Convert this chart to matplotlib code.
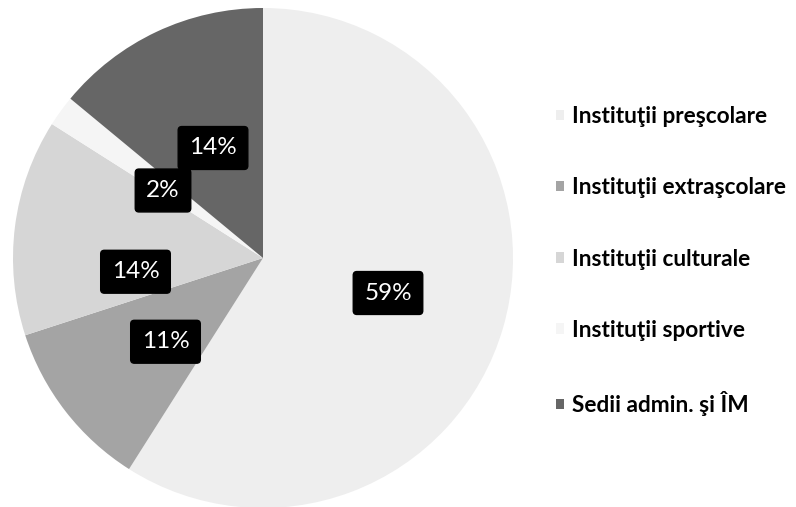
import matplotlib
matplotlib.use("Agg")
import matplotlib.pyplot as plt

# Share of buildings by institution type (%)
categories = [
    "Instituţii preşcolare",
    "Instituţii extraşcolare",
    "Instituţii culturale",
    "Instituţii sportive",
    "Sedii admin. şi ÎM",
]
shares = [59, 11, 14, 2, 14]
pct_labels = ["59%", "11%", "14%", "2%", "14%"]
greys = ["#eeeeee", "#a4a4a4", "#d6d6d6", "#f5f5f5", "#666666"]

# label anchor points in pie units (radius 1)
label_pos = [(0.50, -0.14), (-0.39, -0.335), (-0.51, -0.055), (-0.40, 0.27), (-0.20, 0.44)]

W, H = 796, 507
fig = plt.figure(figsize=(W / 100, H / 100), dpi=100)
fig.patch.set_facecolor("white")

cx, cy, r = 263, 258, 250
ax = fig.add_axes([(cx - r) / W, (H - cy - r) / H, 2 * r / W, 2 * r / H])
wedges, _ = ax.pie(
    shares,
    colors=greys,
    startangle=90,
    counterclock=False,
    radius=1,
    wedgeprops=dict(linewidth=0),
)
ax.set_xlim(-1, 1)
ax.set_ylim(-1, 1)
ax.set_aspect("equal")
ax.axis("off")

for (x, y), txt in zip(label_pos, pct_labels):
    ax.text(
        x, y, txt,
        ha="center", va="center",
        color="white", fontsize=17.5, family=["Lato", "DejaVu Sans"],
        bbox=dict(boxstyle="round,pad=0.45,rounding_size=0.15", fc="black", ec="black"),
    )

fig.legend(
    wedges, categories,
    loc="center left",
    bbox_to_anchor=(545 / W, (H - 261) / H),
    frameon=False,
    borderpad=0,
    handlelength=0.33,
    handleheight=0.33,
    handletextpad=0.35,
    labelspacing=2.22,
    prop=dict(family=["Lato", "DejaVu Sans"], weight="bold", size=16.3),
)

fig.savefig("out.png", dpi=100, facecolor="white")
